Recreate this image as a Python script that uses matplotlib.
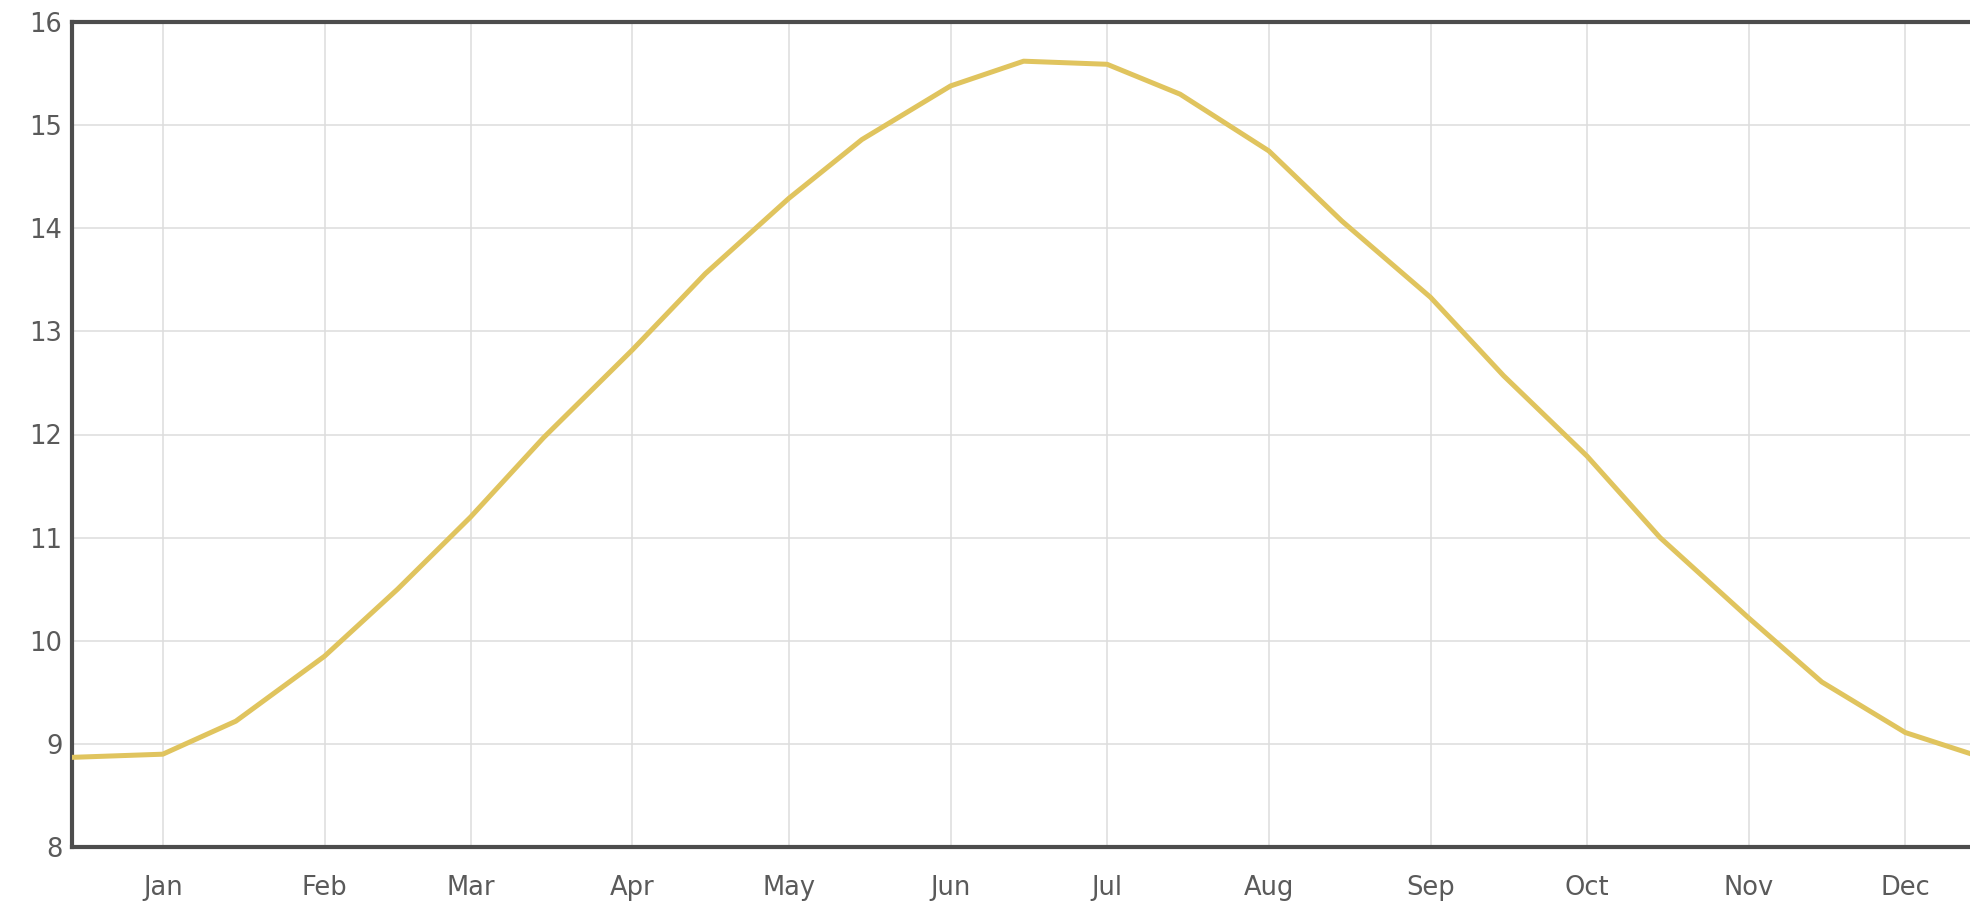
import matplotlib
matplotlib.use("Agg")
import matplotlib.pyplot as plt

# month ticks (day of year where each month starts)
month_days = [0, 31, 59, 90, 120, 151, 181, 212, 243, 273, 304, 334]
month_labels = ['Jan', 'Feb', 'Mar', 'Apr', 'May', 'Jun',
                'Jul', 'Aug', 'Sep', 'Oct', 'Nov', 'Dec']

# samples: 1st and 15th of each month (plus Dec 15 of the year before)
days = [-17, 0, 14, 31, 45, 59, 73, 90, 104, 120, 134, 151, 165,
        181, 195, 212, 226, 243, 257, 273, 287, 304, 318, 334, 348]
values = [8.87, 8.90, 9.22, 9.85, 10.50, 11.20, 11.97, 12.82, 13.56, 14.29,
          14.86, 15.38, 15.62, 15.59, 15.30, 14.75, 14.07, 13.33, 12.57,
          11.79, 11.00, 10.22, 9.60, 9.11, 8.88]

plt.rcParams['font.family'] = ['DejaVu Sans']

W, H = 1970, 908
fig = plt.figure(figsize=(W / 100, H / 100), dpi=100)
left, top, bottom = 72, 22, 847
ax = fig.add_axes([left / W, (H - bottom) / H, (W - left) / W, (bottom - top) / H])

ax.plot(days, values, color='#e0c45e', lw=3.6, solid_joinstyle='round', zorder=3)

ax.set_xlim(-17.4, 346.4)
ax.set_ylim(8, 16)
ax.set_xticks(month_days)
ax.set_xticklabels(month_labels)
ax.set_yticks(range(8, 17))

ax.grid(True, color='#dddddd', lw=1.1)
ax.set_axisbelow(True)

for side in ['left', 'bottom', 'top']:
    ax.spines[side].set_color('#4d4d4d')
    ax.spines[side].set_linewidth(3)
ax.spines['right'].set_visible(False)

ax.tick_params(axis='both', length=0, labelsize=18.5, labelcolor='#5a5a5a')
ax.tick_params(axis='x', pad=20)
ax.tick_params(axis='y', pad=7)

fig.savefig('out.png', dpi=100)
